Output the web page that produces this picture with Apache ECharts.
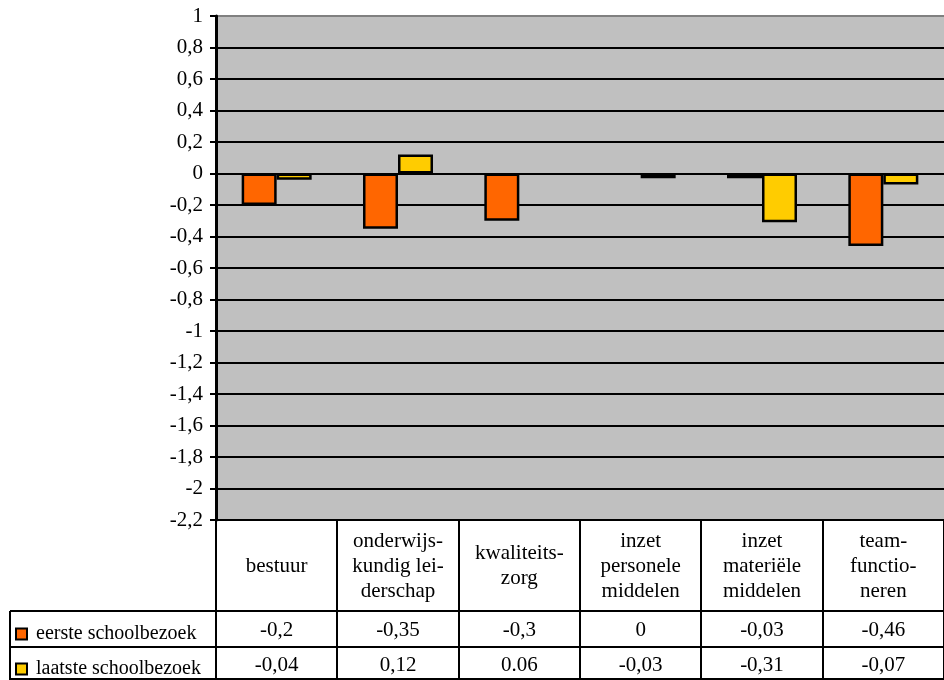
<!DOCTYPE html>
<html>
<head>
<meta charset="utf-8">
<script src="https://cdn.jsdelivr.net/npm/echarts@6/dist/echarts.min.js"></script>
<style>html,body{margin:0;padding:0;background:#fff}#c{width:944px;height:680px}</style>
</head>
<body>
<div id="c"></div>
<script>
const categories = ['bestuur', 'onderwijs-\nkundig lei-\nderschap', 'kwaliteits-\nzorg', 'inzet\npersonele\nmiddelen', 'inzet\nmateriële\nmiddelen', 'team-\nfunctio-\nneren'];
const seriesNames = ['eerste schoolbezoek', 'laatste schoolbezoek'];
const eersteValues = [-0.2, -0.35, -0.3, 0, -0.03, -0.46];
const laatsteValues = [-0.04, 0.12, null, -0.03, -0.31, -0.07];
const eersteText = ['-0,2', '-0,35', '-0,3', '0', '-0,03', '-0,46'];
const laatsteText = ['-0,04', '0,12', '0.06', '-0,03', '-0,31', '-0,07'];
const yMin = -2.2, yMax = 1, yStep = 0.2;

const FONT = 'Liberation Serif';
const FS = 21;
const GL = 216, GW = 728, GT = 16, GB = 520;
const chart = echarts.init(document.getElementById('c'), null, {renderer: 'canvas'});

const splitColors = [];
for (let i = 0; i < 16; i++) splitColors.push('#000');
splitColors.push('#808080');

const colW = GW / categories.length;
const lines = [];
const L = (x1, y1, x2, y2) => lines.push({type: 'line', shape: {x1, y1, x2, y2}, style: {stroke: '#000', lineWidth: 2}, z: 10});
for (let k = 0; k <= categories.length; k++) {
  const x = Math.round(GL + k * colW);
  L(x, GB, x, 680);
}
L(10, 611, 944, 611);
L(10, 647, 944, 647);
L(10, 611, 10, 680);
L(10, 679, 944, 679);

const hideZero = arr => arr.map(v => (v === 0 ? null : v));
const legendText = {fontFamily: FONT, fontSize: 20, color: '#000', padding: [0, 0, 0, 4]};

const option = {
  animation: false,
  grid: {left: GL, right: 0, top: GT, bottom: 680 - GB, show: true, backgroundColor: '#C0C0C0', borderWidth: 0},
  legend: [
    {data: [seriesNames[0]], icon: 'rect', left: 10, top: 619, itemWidth: 11, itemHeight: 11, itemGap: 4,
     itemStyle: {borderColor: '#000', borderWidth: 2}, textStyle: legendText},
    {data: [seriesNames[1]], icon: 'rect', left: 10, top: 654, itemWidth: 11, itemHeight: 11, itemGap: 4,
     itemStyle: {borderColor: '#000', borderWidth: 2}, textStyle: legendText}
  ],
  xAxis: [
    {type: 'category', data: categories, position: 'bottom',
     axisLine: {onZero: false, lineStyle: {color: '#000', width: 2}},
     axisTick: {show: false},
     axisLabel: {interval: 0, margin: 46, verticalAlign: 'middle', lineHeight: 25, fontFamily: FONT, fontSize: FS, color: '#000', align: 'center'}},
    {type: 'category', data: categories, position: 'bottom',
     axisLine: {show: false}, axisTick: {show: false},
     axisLabel: {interval: 0, margin: 110, verticalAlign: 'middle', fontFamily: FONT, fontSize: FS, color: '#000', formatter: (v, i) => eersteText[i]}},
    {type: 'category', data: categories, position: 'bottom',
     axisLine: {show: false}, axisTick: {show: false},
     axisLabel: {interval: 0, margin: 145, verticalAlign: 'middle', fontFamily: FONT, fontSize: FS, color: '#000', formatter: (v, i) => laatsteText[i]}}
  ],
  yAxis: {
    type: 'value', min: yMin, max: yMax, interval: yStep,
    axisLine: {show: true, lineStyle: {color: '#000', width: 3}},
    axisTick: {show: true, length: 6, lineStyle: {color: '#000', width: 2}},
    splitLine: {show: true, lineStyle: {color: splitColors, width: 2}},
    axisLabel: {margin: 13, fontFamily: FONT, fontSize: FS, color: '#000',
      formatter: v => String(Math.round(v * 10) / 10).replace('.', ',')}
  },
  series: [
    {name: seriesNames[0], type: 'bar', xAxisIndex: 0, data: hideZero(eersteValues), barWidth: 35, barGap: '0%',
     itemStyle: {color: '#FF6600', borderColor: '#000', borderWidth: 2.5}},
    {name: seriesNames[1], type: 'bar', xAxisIndex: 0, data: laatsteValues, barWidth: 35, barGap: '0%',
     itemStyle: {color: '#FFCC00', borderColor: '#000', borderWidth: 2.5}}
  ],
  graphic: lines
};
chart.setOption(option);
</script>
</body>
</html>
